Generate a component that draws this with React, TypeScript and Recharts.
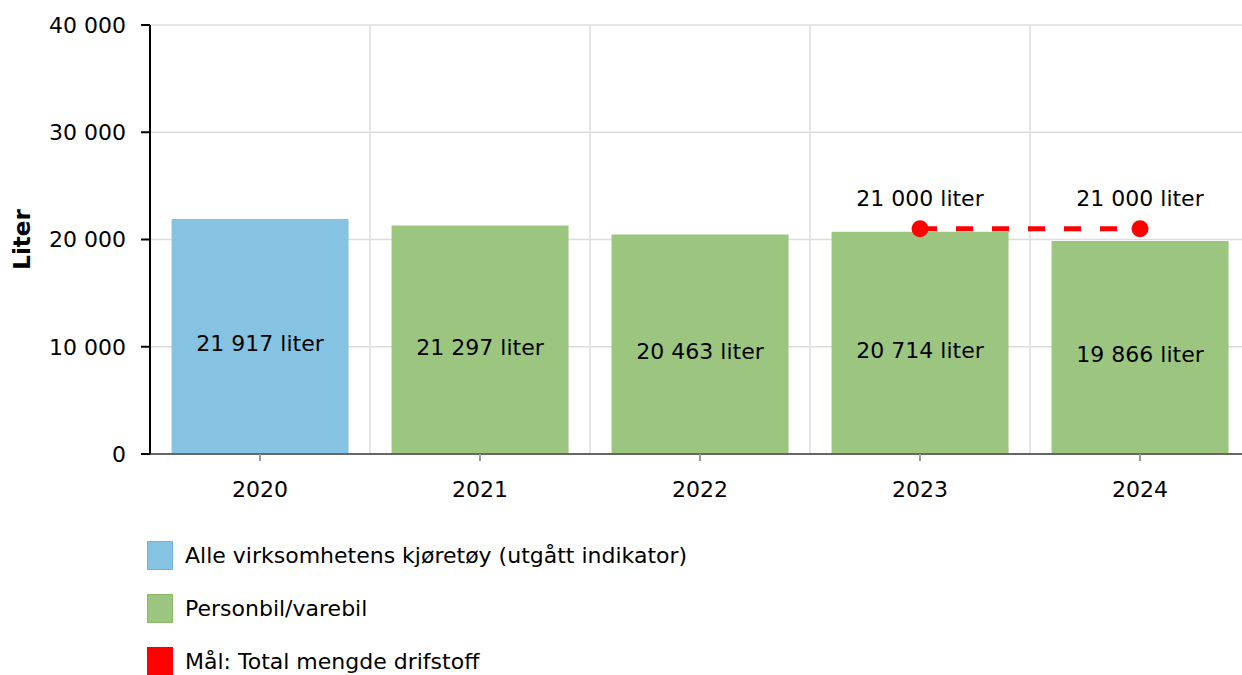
import React from 'react';
import { ComposedChart, Bar, Line, XAxis, YAxis, CartesianGrid, LabelList } from 'recharts';

const categories = ['2020', '2021', '2022', '2023', '2024'];
const allVehicles: (number | null)[] = [21917, null, null, null, null];
const personbil: (number | null)[] = [null, 21297, 20463, 20714, 19866];
const target: (number | null)[] = [null, null, null, 21000, 21000];
const yTicks = [0, 10000, 20000, 30000, 40000];

const legendItems = [
  { label: 'Alle virksomhetens kjøretøy (utgått indikator)', color: '#86C2E2', border: '#6FB4DA' },
  { label: 'Personbil/varebil', color: '#9CC580', border: '#86B866' },
  { label: 'Mål: Total mengde drifstoff', color: '#FF0000', border: '#FF0000' },
];

const data = categories.map((c, i) => ({
  year: c,
  all: allVehicles[i],
  pers: personbil[i],
  target: target[i],
}));

const FONT = '"DejaVu Sans", Verdana, sans-serif';
const FS = 22;

const fmt = (v: any) => String(v).replace(/\B(?=(\d{3})+(?!\d))/g, ' ');
const fmtLiter = (v: any) => (v === null || v === undefined ? '' : `${fmt(v)} liter`);

export default function App() {
  return (
    <div
      style={{
        position: 'fixed',
        left: 0,
        top: 0,
        width: 1242,
        height: 675,
        overflow: 'hidden',
        background: '#fff',
        fontFamily: FONT,
      }}
    >
      <ComposedChart
        width={1260}
        height={675}
        data={data}
        margin={{ top: 25, right: 10, left: 10, bottom: 181 }}
        barCategoryGap="9.8%"
        style={{ fontFamily: FONT }}
      >
        <CartesianGrid
          stroke="#dcdcdc"
          strokeWidth={1.5}
          verticalCoordinatesGenerator={({ offset }: any) =>
            categories.map((_, i) => offset.left + (i * offset.width) / categories.length).slice(1)
          }
        />
        <XAxis
          dataKey="year"
          height={40}
          tickSize={7}
          tickMargin={20}
          axisLine={{ stroke: '#666', strokeWidth: 2 }}
          tickLine={{ stroke: '#999', strokeWidth: 2 }}
          tick={{ fill: '#000', fontSize: FS, fontFamily: FONT }}
        />
        <YAxis
          width={140}
          domain={[0, 40000]}
          ticks={yTicks}
          tickFormatter={fmt}
          tickSize={9}
          tickMargin={15}
          axisLine={{ stroke: '#000', strokeWidth: 2 }}
          tickLine={{ stroke: '#000', strokeWidth: 2 }}
          tick={{ fill: '#000', fontSize: FS, fontFamily: FONT }}
          label={{
            value: 'Liter',
            angle: -90,
            position: 'insideLeft',
            offset: 12,
            textAnchor: 'middle',
            style: { fontWeight: 'bold', fontSize: 23, fill: '#000', fontFamily: FONT },
          }}
        />
        <Bar dataKey="all" stackId="a" fill="#86C2E2" isAnimationActive={false}>
          <LabelList dataKey="all" position="center" dy={7} formatter={fmtLiter} fill="#000" fontSize={FS} fontFamily={FONT} />
        </Bar>
        <Bar dataKey="pers" stackId="a" fill="#9CC580" isAnimationActive={false}>
          <LabelList dataKey="pers" position="center" dy={7} formatter={fmtLiter} fill="#000" fontSize={FS} fontFamily={FONT} />
        </Bar>
        <Line
          dataKey="target"
          stroke="#FF0000"
          strokeWidth={5}
          strokeDasharray="17 19"
          dot={{ r: 8.5, fill: '#FF0000', stroke: '#FF0000', strokeWidth: 0 }}
          activeDot={false}
          isAnimationActive={false}
        >
          <LabelList dataKey="target" position="top" offset={23} formatter={fmtLiter} fill="#000" fontSize={FS} fontFamily={FONT} />
        </Line>
      </ComposedChart>
      <div style={{ position: 'absolute', left: 147, top: 529 }}>
        {legendItems.map((it) => (
          <div key={it.label} style={{ display: 'flex', alignItems: 'center', height: 53 }}>
            <div
              style={{
                width: 26,
                height: 29,
                background: it.color,
                border: `1.5px solid ${it.border}`,
                boxSizing: 'border-box',
                marginRight: 12,
              }}
            />
            <span style={{ fontSize: FS, color: '#000', fontFamily: FONT, whiteSpace: 'nowrap' }}>{it.label}</span>
          </div>
        ))}
      </div>
    </div>
  );
}
